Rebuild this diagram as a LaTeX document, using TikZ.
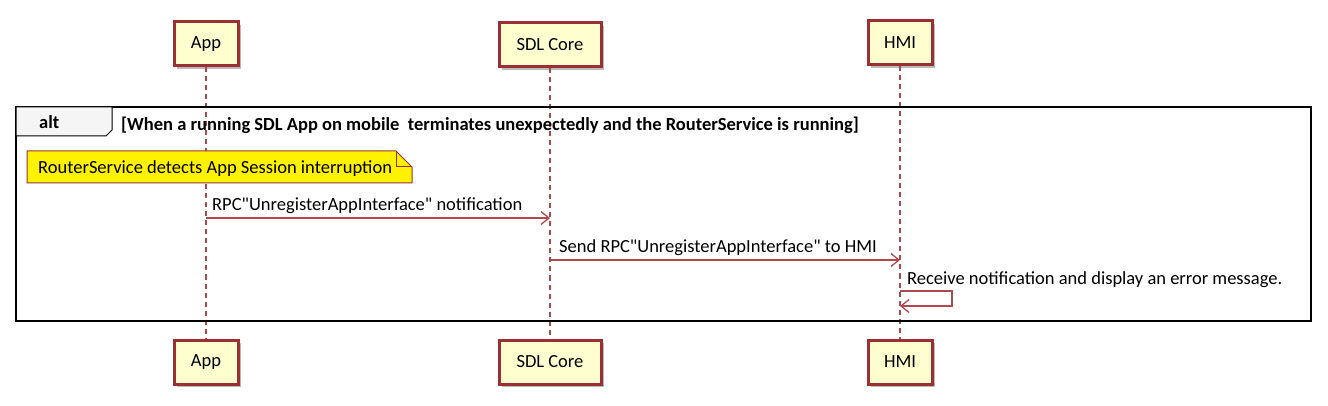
\documentclass[tikz,border=0pt]{standalone}
\usepackage{fontspec}
\setmainfont{Carlito}[Ligatures=TeXOff]
\usetikzlibrary{arrows.meta,shadows,calc}
\definecolor{pborder}{HTML}{9A3034}
\definecolor{pline}{HTML}{B0484C}
\definecolor{pfill}{HTML}{FEFECE}
\tikzset{
  actor/.style={draw=pborder,fill=pfill,line width=3pt,minimum height=44pt,inner xsep=9pt,
    font=\fontsize{18.5}{22}\selectfont,drop shadow={shadow xshift=3pt,shadow yshift=-3pt,opacity=0.45,fill=black!60}},
  lifeline/.style={draw=pline,dashed,dash pattern=on 5pt off 4pt,line width=1.1pt},
  msg/.style={draw=pline,line width=1.3pt,-{Straight Barb[length=8pt,width=13pt,line width=1.3pt]}},
  msglabel/.style={font=\fontsize{18.5}{22}\selectfont,anchor=base west,inner sep=0pt},
}
\begin{document}
\begin{tikzpicture}[x=1pt,y=-1pt]
\useasboundingbox (0,0) rectangle (1328,406);
% actors
\node[actor,minimum width=64pt] (appT) at (206,44) {App};
\node[actor,minimum width=102pt] (coreT) at (550,45) {SDL Core};
\node[actor,minimum width=64pt] (hmiT) at (900,43) {HMI};
\node[actor,minimum width=64pt] (appB) at (206,362) {App};
\node[actor,minimum width=102pt] (coreB) at (550,362) {SDL Core};
\node[actor,minimum width=64pt] (hmiB) at (900,362) {HMI};
% lifelines
\draw[lifeline] (appT.south) -- (appB.north);
\draw[lifeline] (coreT.south) -- (coreB.north);
\draw[lifeline] (hmiT.south) -- (hmiB.north);
% alt frame
\draw[line width=2.8pt] (16,107) rectangle (1311,321);
\draw[line width=1pt,fill=white!96!black] (16,107) -- (112,107) -- (112,130) -- (106,136) -- (16,136) -- cycle;
\node[font=\bfseries\fontsize{18.5}{22}\selectfont,anchor=base west,inner sep=0pt] (altlbl) at (39,129) {alt};
\node[font=\bfseries\fontsize{18.5}{22}\selectfont,anchor=base west,inner sep=0pt] (cond) at (121,131) {[When a running SDL App on mobile\ \ terminates unexpectedly and the RouterService is running]};
% note
\draw[draw=pborder,fill=yellow,line width=1pt] (27,151) -- (396,151) -- (412,167) -- (412,183) -- (27,183) -- cycle;
\draw[draw=pborder,line width=1pt] (396,151) -- (396,167) -- (412,167);
\node[msglabel] (note) at (38,174) {RouterService detects App Session interruption};
% messages
\coordinate (m1s) at (206,218);
\coordinate (m1e) at (550,218);
\draw[msg] (m1s) -- (m1e);
\node[msglabel] (l1) at (212,211) {RPC"UnregisterAppInterface" notification};
\coordinate (m2s) at (550,260);
\coordinate (m2e) at (900,260);
\draw[msg] (m2s) -- (m2e);
\node[msglabel] (l2) at (559,253) {Send RPC"UnregisterAppInterface" to HMI};
\coordinate (m3s) at (900,291);
\coordinate (m3a) at (952,291);
\coordinate (m3b) at (952,306);
\coordinate (m3e) at (900,306);
\draw[msg] (m3s) -- (m3a) -- (m3b) -- (m3e);
\node[msglabel] (l3) at (907,284) {Receive notification and display an error message.};
\end{tikzpicture}
\end{document}
